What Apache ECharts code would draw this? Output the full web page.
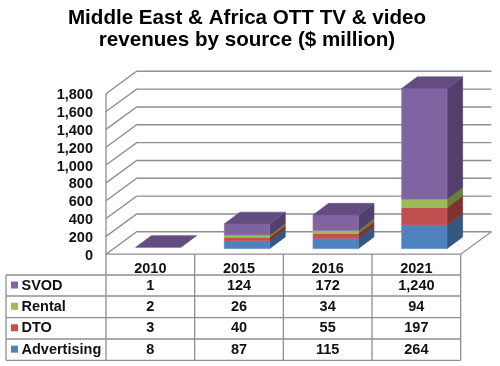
<!DOCTYPE html>
<html>
<head>
<meta charset="utf-8">
<style>html,body{margin:0;padding:0;background:#fff}#c{width:500px;height:366px}</style>
<script src="https://cdn.jsdelivr.net/npm/echarts@6/dist/echarts.min.js"></script>
</head>
<body>
<div id="c"></div>
<script>
const titleLines = ['Middle East & Africa OTT TV & video', 'revenues by source ($ million)'];
const years = ['2010', '2015', '2016', '2021'];
const advertising = [8, 87, 115, 264];
const dto = [3, 40, 55, 197];
const rental = [2, 26, 34, 94];
const svod = [1, 124, 172, 1240];
const ticks = [0, 200, 400, 600, 800, 1000, 1200, 1400, 1600, 1800];

const chart = echarts.init(document.getElementById('c'), null, {renderer: 'canvas'});
const FONT = '"Liberation Sans", Arial, sans-serif';
const GRID = '#8f8f8f';
const WALL_DX = 30.7, WALL_DY = 22.4;
const BAR_W = 45.3, BAR_OFF = 8, BAR_LIFT = 5.6, D_DX = 15.6, D_DY = 11.7;

const stacks = [
  {name: 'Advertising', values: advertising, front: '#4f81bd', side: '#34587f', top: '#3f6797', edge: '#5a8ac2'},
  {name: 'DTO', values: dto, front: '#c0504d', side: '#7f3331', top: '#99403e', edge: '#c55e5b'},
  {name: 'Rental', values: rental, front: '#9bbb59', side: '#6a7f3d', top: '#7c9647', edge: '#a3c066'},
  {name: 'SVOD', values: svod, front: '#8064a2', side: '#533f6c', top: '#634d80', edge: '#8c72ab'}
];

function poly(points, fill, stroke) {
  return {type: 'polygon', shape: {points}, style: {fill, stroke: stroke || fill, lineWidth: 0.7}};
}

// Walls and gridlines, one item per tick value.
const wallSeries = {
  type: 'custom', coordinateSystem: 'cartesian2d', silent: true, clip: false, z: 1,
  data: ticks.map(t => [0, t]),
  encode: {x: 0, y: 1},
  renderItem(params, api) {
    const left = api.coord([0, api.value(1)]);
    const x0 = params.coordSys.x, x1 = x0 + params.coordSys.width;
    const y = left[1];
    return {
      type: 'polyline',
      shape: {points: [[x0, y], [x0 + WALL_DX, y - WALL_DY], [x1 + WALL_DX, y - WALL_DY]]},
      style: {fill: null, stroke: GRID, lineWidth: 1.4}
    };
  }
};

// Right-hand floor edge.
const floorSeries = {
  type: 'custom', coordinateSystem: 'cartesian2d', silent: true, clip: false, z: 1,
  data: [[0, 0]],
  encode: {x: 0, y: 1},
  renderItem(params, api) {
    const y = api.coord([0, 0])[1];
    const x1 = params.coordSys.x + params.coordSys.width;
    return {type: 'line', shape: {x1, y1: y, x2: x1 + WALL_DX, y2: y - WALL_DY},
      style: {stroke: GRID, lineWidth: 1.1}};
  }
};

let running = years.map(() => 0);
const barSeries = stacks.map((s, si) => {
  const data = s.values.map((v, i) => {
    const row = [i, running[i], running[i] + v];
    running[i] += v;
    return row;
  });
  return {
    type: 'custom', name: s.name, coordinateSystem: 'cartesian2d', silent: true, clip: false, z: 3,
    data,
    encode: {x: 0, y: 2},
    renderItem(params, api) {
      const lo = api.coord([api.value(0), api.value(1)]);
      const hi = api.coord([api.value(0), api.value(2)]);
      const xl = lo[0] + BAR_OFF - BAR_W / 2, xr = xl + BAR_W;
      const yb = lo[1] - BAR_LIFT, yt = hi[1] - BAR_LIFT;
      const children = [];
      // The 2010 stack is so short that it reads as a flat plate: only its top shows.
      if (yb - yt >= 1.5) {
        children.push(poly([[xr, yb], [xr + D_DX, yb - D_DY], [xr + D_DX, yt - D_DY], [xr, yt]], s.side));
        children.push(poly([[xl, yb], [xr, yb], [xr, yt], [xl, yt]], s.front, s.edge));
      }
      if (si === stacks.length - 1) {
        children.push(poly([[xl, yt], [xr, yt], [xr + D_DX, yt - D_DY], [xl + D_DX, yt - D_DY]], s.top, '#6f5890'));
      }
      return {type: 'group', children};
    }
  };
});

// Data table under the plot.
const rows = [...stacks].reverse();
const rowLines = [275, 296, 317.6, 339, 360.3];
const colLeft = 6;
const tableSeries = {
  type: 'custom', coordinateSystem: 'cartesian2d', silent: true, clip: false, z: 4,
  data: [[0, 0]],
  encode: {x: 0, y: 1},
  renderItem(params) {
    const cs = params.coordSys;
    const yTop = cs.y + cs.height;
    const kids = [];
    const line = (x1, y1, x2, y2) => kids.push({type: 'line', shape: {x1, y1, x2, y2},
      style: {stroke: GRID, lineWidth: 1.3}});
    const cw = cs.width / years.length;
    line(cs.x, yTop, cs.x + cs.width, yTop);
    rowLines.forEach(y => line(colLeft, y, cs.x + cs.width, y));
    line(colLeft, rowLines[0], colLeft, rowLines[4]);
    line(cs.x, cs.y, cs.x, rowLines[4]);
    for (let c = 1; c <= years.length; c++) {
      line(cs.x + c * cw, yTop, cs.x + c * cw, rowLines[4]);
    }
    rows.forEach((s, r) => {
      const yc = (rowLines[r] + rowLines[r + 1]) / 2;
      kids.push({type: 'rect', shape: {x: 11, y: yc - 4, width: 7, height: 7}, style: {fill: s.front}});
      kids.push({type: 'text', style: {x: 21.5, y: yc, text: s.name, fill: '#111',
        font: 'bold 14.5px ' + FONT, textAlign: 'left', textVerticalAlign: 'middle'}});
      s.values.forEach((v, c) => {
        kids.push({type: 'text', style: {x: cs.x + (c + 0.5) * cw, y: yc, text: v.toLocaleString('en-US'), fill: '#111',
          font: 'bold 14.5px ' + FONT, textAlign: 'center', textVerticalAlign: 'middle'}});
      });
    });
    return {type: 'group', children: kids};
  }
};

chart.setOption({
  animation: false,
  backgroundColor: '#fff',
  title: {
    text: titleLines.join('\n'),
    left: 242, top: 3, textAlign: 'center',
    textStyle: {fontFamily: FONT, fontWeight: 'bold', fontSize: 20.6, lineHeight: 21.5, color: '#000'}
  },
  grid: {left: 106, top: 93.7, width: 354.7, height: 160.5, containLabel: false},
  xAxis: {
    type: 'category', data: years, boundaryGap: true,
    axisLine: {show: false}, axisTick: {show: false},
    axisLabel: {fontFamily: FONT, fontWeight: 'bold', fontSize: 14.5, color: '#111', margin: 7}
  },
  yAxis: {
    type: 'value', min: 0, max: 1800, interval: 200,
    axisLine: {show: false}, axisTick: {show: false}, splitLine: {show: false},
    axisLabel: {fontFamily: FONT, fontWeight: 'bold', fontSize: 14.5, color: '#111', margin: 13,
      verticalAlign: 'top', lineHeight: 3, formatter: v => v.toLocaleString('en-US')}
  },
  series: [wallSeries, floorSeries, ...barSeries, tableSeries]
});
</script>
</body>
</html>
